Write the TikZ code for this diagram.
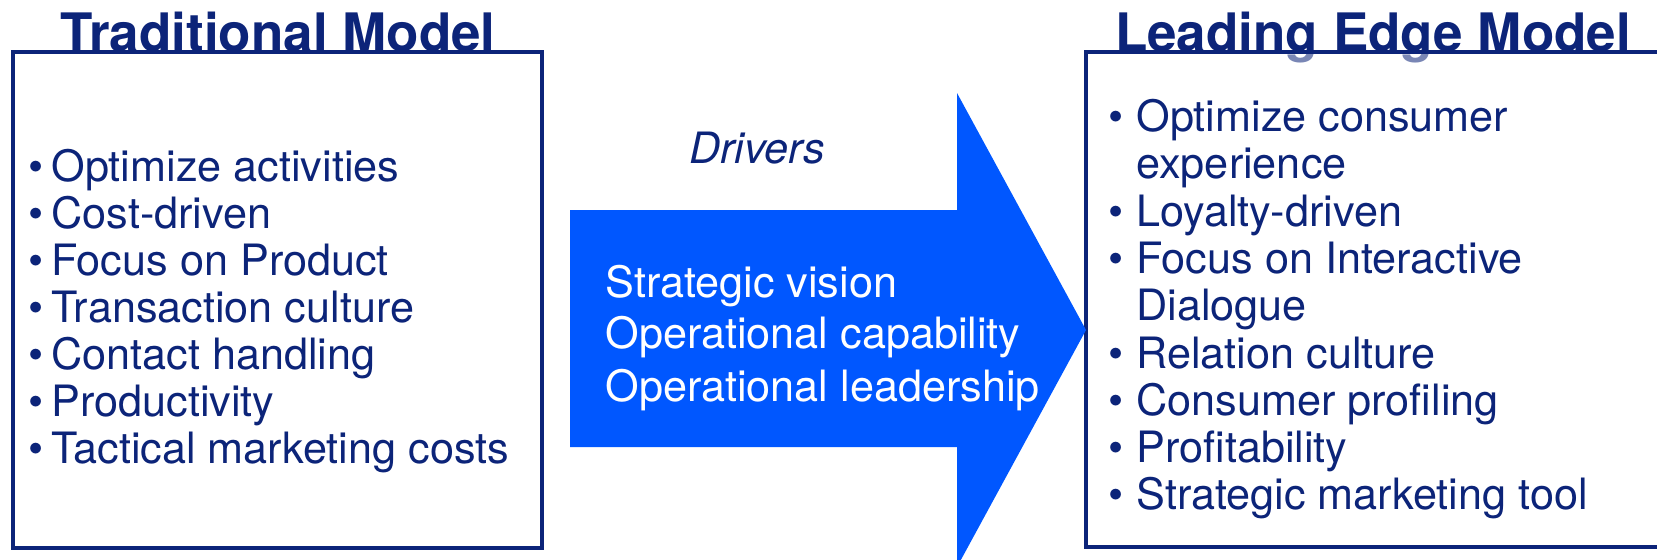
\documentclass[tikz,border=0pt]{standalone}
\usepackage{fontspec}
\setmainfont{TeX Gyre Heros}
\usetikzlibrary{positioning}

\definecolor{navy}{RGB}{12,36,121}
\definecolor{arrowblue}{RGB}{0,87,255}

\begin{document}
\begin{tikzpicture}[x=0.5pt,y=-0.5pt,
        title/.style={font=\fontsize{26.5}{30}\selectfont\bfseries, text=navy, inner sep=0pt, anchor=base},
        item/.style={font=\fontsize{21.6}{24}\selectfont, text=navy, inner sep=0pt, anchor=base west},
        bullet/.style={item, anchor=base},
        driver/.style={item, text=white},
        modelbox/.style={draw=navy, line width=1.8pt, fill=white}]
        \useasboundingbox (0,0) rectangle (1657,559);
        \clip (0,0) rectangle (1657,559);

        % the titles, the boxes sit over their lower edge
        \node[title] (tradtitle) at (278,51) {Traditional Model};
        \node[title] (leadtitle) at (1373,51) {Leading Edge Model};

        \draw[modelbox] (13,52) rectangle (542,548);
        \draw[modelbox, fill opacity=0.45] (1086,52) rectangle (1700,547);

        % the big arrow in between
        \fill[arrowblue] (570,210) -- (957,210) -- (957,93) -- (1086,330) -- (957,567) -- (957,447) -- (570,447) -- cycle;

        \node[item, font=\fontsize{21.6}{24}\selectfont\itshape] (drivers) at (689,163) {Drivers};
        \node[driver] (vision) at (605,297) {Strategic vision};
        \node[driver] (capability) at (605,348) {Operational capability};
        \node[driver] (leadership) at (605,401) {Operational leadership};

        % left list
        \foreach \txt [count=\i] in {Optimize activities, Cost-driven, Focus on Product,
                Transaction culture, Contact handling, Productivity, Tactical marketing costs} {
            \node[bullet] (tradbul\i) at (36,{181+47.1*(\i-1)}) {\textbullet};
            \node[item] (trad\i) at (51,{181+47.1*(\i-1)}) {\txt};
        }

        % right list, some items run over two lines
        \foreach \row/\txt in {0/Optimize consumer, 1/experience, 2/Loyalty-driven,
                3/Focus on Interactive, 4/Dialogue, 5/Relation culture,
                6/Consumer profiling, 7/Profitability, 8/Strategic marketing tool}
            \node[item] (lead\row) at (1136,{131.5+47.3*\row}) {\txt};
        \foreach \row in {0,2,3,5,6,7,8}
            \node[bullet] (leadbul\row) at (1116,{131.5+47.3*\row}) {\textbullet};
    \end{tikzpicture}
\end{document}
